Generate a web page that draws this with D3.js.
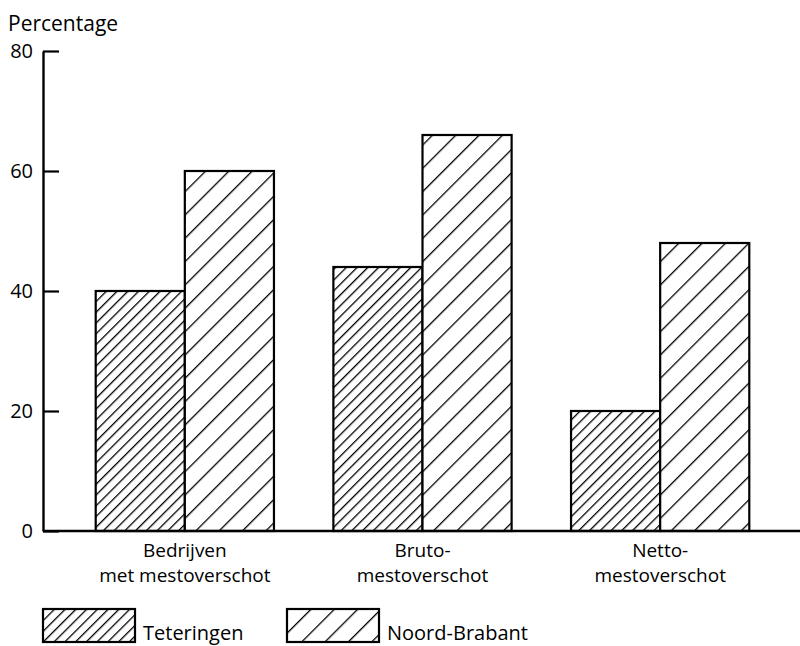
<!DOCTYPE html>
<html lang="nl">
<head>
  <meta charset="UTF-8">
  <title>Mestoverschot</title>
  <script src="https://d3js.org/d3.v7.min.js"></script>
  <style>
    body, html { margin: 0; padding: 0; background: #fff; }
    svg { display: block; font-family: "Open Sans", sans-serif; }
  </style>
</head>
<body>
  <svg width="800" height="646"></svg>
  <script>
    // data
    const categories = [["Bedrijven", "met mestoverschot"], ["Bruto-", "mestoverschot"], ["Netto-", "mestoverschot"]];
    const series = ["Teteringen", "Noord-Brabant"];
    const teteringen = [40, 44, 20];
    const noordBrabant = [60, 66, 48];
    const yTicks = [0, 20, 40, 60, 80];
    const yTitle = "Percentage";

    const svg = d3.select("svg"),
          width = +svg.attr("width"),
          height = +svg.attr("height");

    const axisX = 43; // position of the y axis line

    const y = d3.scaleLinear().domain([0, 80]).range([531, 51]);

    const x0 = d3.scaleBand()
      .domain(d3.range(categories.length))
      .range([66, 779])
      .paddingInner(0.25)
      .paddingOuter(0.125);

    const x1 = d3.scaleBand()
      .domain(series)
      .range([0, x0.bandwidth()]);

    // hatch patterns: dense for Teteringen, wide for Noord-Brabant
    const defs = svg.append("defs");
    const hatch = { "Teteringen": 7.6, "Noord-Brabant": 16.5 };
    series.forEach((s, i) => {
      const p = defs.append("pattern")
        .attr("id", "hatch" + i)
        .attr("patternUnits", "userSpaceOnUse")
        .attr("width", hatch[s])
        .attr("height", hatch[s])
        .attr("patternTransform", "rotate(45)");
      p.append("rect").attr("width", hatch[s]).attr("height", hatch[s]).attr("fill", "#fff");
      p.append("line")
        .attr("x1", 0).attr("y1", 0)
        .attr("x2", 0).attr("y2", hatch[s])
        .attr("stroke", "#000")
        .attr("stroke-width", 2.6);
    });

    // bars
    const rows = categories.map((c, i) => ({ i, values: [teteringen[i], noordBrabant[i]] }));
    const groups = svg.append("g").selectAll("g")
      .data(rows)
      .join("g")
      .attr("transform", d => `translate(${x0(d.i)},0)`);

    groups.selectAll("rect")
      .data(d => d.values.map((v, k) => ({ s: series[k], k, v })))
      .join("rect")
      .attr("x", d => x1(d.s))
      .attr("y", d => y(d.v))
      .attr("width", x1.bandwidth())
      .attr("height", d => y(0) - y(d.v))
      .attr("fill", d => `url(#hatch${d.k})`)
      .attr("stroke", "#000")
      .attr("stroke-width", 2.2);

    // y axis, ticks pointing inward
    const yAxis = svg.append("g")
      .attr("transform", `translate(${axisX},0)`)
      .call(d3.axisLeft(y).tickValues(yTicks).tickSize(-16).tickSizeOuter(0).tickPadding(10));
    yAxis.select(".domain").attr("stroke-width", 2.4);
    yAxis.selectAll(".tick line").attr("stroke-width", 2.2);
    yAxis.selectAll(".tick text")
      .attr("font-family", "Open Sans, sans-serif")
      .attr("font-size", 20)
      .attr("fill", "#000");

    // x axis baseline
    svg.append("line")
      .attr("x1", axisX).attr("x2", width)
      .attr("y1", y(0)).attr("y2", y(0))
      .attr("stroke", "#000")
      .attr("stroke-width", 2.4);

    // axis title
    svg.append("text")
      .attr("x", 8).attr("y", 31)
      .attr("font-size", 21)
      .text(yTitle);

    // category labels, one text per line
    const labelG = svg.append("g").selectAll("g")
      .data(categories)
      .join("g")
      .attr("transform", (d, i) => `translate(${x0(i) + x0.bandwidth() / 2},${y(0)})`);
    labelG.selectAll("text")
      .data(d => d)
      .join("text")
      .attr("text-anchor", "middle")
      .attr("font-size", 19)
      .attr("y", (d, j) => 26 + j * 25)
      .text(d => d);

    // legend
    const legendX = d3.scalePoint().domain(series).range([43, 287]);
    const leg = svg.append("g").selectAll("g")
      .data(series)
      .join("g")
      .attr("transform", d => `translate(${legendX(d)},609)`);
    leg.append("rect")
      .attr("width", 92).attr("height", 33)
      .attr("fill", (d, i) => `url(#hatch${i})`)
      .attr("stroke", "#000")
      .attr("stroke-width", 2.2);
    leg.append("text")
      .attr("x", 100).attr("y", 31)
      .attr("font-size", 20)
      .text(d => d);
  </script>
</body>
</html>
